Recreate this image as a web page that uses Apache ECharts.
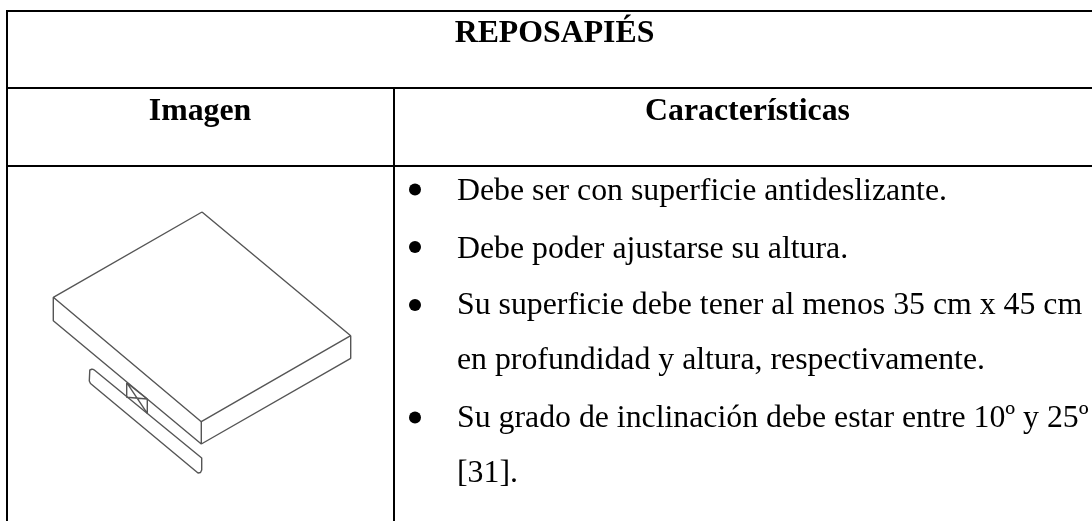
<!DOCTYPE html>
<html>
<head>
<meta charset="utf-8">
<style>
	html,body{margin:0;padding:0;background:#fff}
	#main{width:1092px;height:521px}
</style>
<script src="https://cdn.jsdelivr.net/npm/echarts@6/dist/echarts.min.js"></script>
</head>
<body>
<div id="main"></div>
<script>
	// table rules, each one [x1,y1,x2,y2]
	var tableRules = [
		[6, 11, 1092, 11],
		[6, 88, 1092, 88],
		[6, 166, 1092, 166],
		[7, 10, 7, 521],
		[394, 88, 394, 521]
	]
	// footrest outline
	var boardTop = [[202,212],[53.3,297.3],[201.3,421.7],[350.7,335.7],[202,212]]
	var boardLeft = [[53.3,297.3],[53.3,320.7],[201.3,444],[201.3,421.7]]
	var boardRight = [[201.3,444],[350.7,358.3],[350.7,335.7]]
	var rail = [[92.5,369],[89.8,370],[89.3,372],[89.3,381],[90.5,383.5],[198,473],[200.5,472.5],[201.7,470],[201.7,458],[200.5,456],[94,369.8],[92.5,369]]
	var bracketA = [[126.7,382.7],[126.7,397.3],[147.3,399],[147.3,413.3],[126.7,382.7],[147.3,399]]

	var headTexts = [
		{text:'REPOSAPIÉS', x:554.5, y:34},
		{text:'Imagen', x:200, y:112},
		{text:'Características', x:747.5, y:111.5}
	]
	var bodyTexts = [
		{text:'Debe ser con superficie antideslizante.', x:457, y:191.5},
		{text:'Debe poder ajustarse su altura.', x:457, y:249.5},
		{text:'Su superficie debe tener al menos 35 cm x 45 cm', x:457, y:306},
		{text:'en profundidad y altura, respectivamente.', x:457, y:361},
		{text:'Su grado de inclinación debe estar entre 10º y 25º', x:457, y:419},
		{text:'[31].', x:457, y:474}
	]
	var bullets = [[415,189.5],[415,247],[415,305],[415,417.5]]

	function lineSeries(points, color, width){
		return {
			type:'line', data:points, symbol:'none', silent:true, animation:false,
			lineStyle:{color:color, width:width}
		}
	}
	function textSeries(rows, font, weight, size, align){
		return {
			type:'scatter', symbol:'rect', symbolSize:1, silent:true, animation:false,
			itemStyle:{color:'transparent'},
			data:rows.map(function(r){ return {value:[r.x,r.y], name:r.text} }),
			label:{
				show:true, position:'inside', align:align, verticalAlign:'middle',
				formatter:'{b}', color:'#000', opacity:1, textBorderWidth:0,
				fontFamily:font, fontWeight:weight, fontSize:size
			}
		}
	}

	var mychart = echarts.init(document.getElementById('main'), null, {renderer:'canvas'})
	var series = []
	tableRules.forEach(function(r){
		series.push(lineSeries([[r[0],r[1]],[r[2],r[3]]], '#000', 2))
	})
	;[boardTop, boardLeft, boardRight, rail, bracketA].forEach(function(p){
		series.push(lineSeries(p, '#555', 1.4))
	})
	series.push(textSeries(headTexts, 'Liberation Serif', 'bold', 31.8, 'center'))
	series.push(textSeries(bodyTexts, 'Liberation Serif', 'normal', 31.8, 'left'))
	series.push({
		type:'scatter', data:bullets, symbol:'circle', symbolSize:12,
		itemStyle:{color:'#000', opacity:1}, silent:true, animation:false
	})

	var option = {
		animation:false,
		backgroundColor:'#fff',
		grid:{left:0, right:0, top:0, bottom:0},
		xAxis:{type:'value', min:0, max:1092, show:false},
		yAxis:{type:'value', min:0, max:521, inverse:true, show:false},
		series:series
	}
	mychart.setOption(option)
</script>
</body>
</html>
